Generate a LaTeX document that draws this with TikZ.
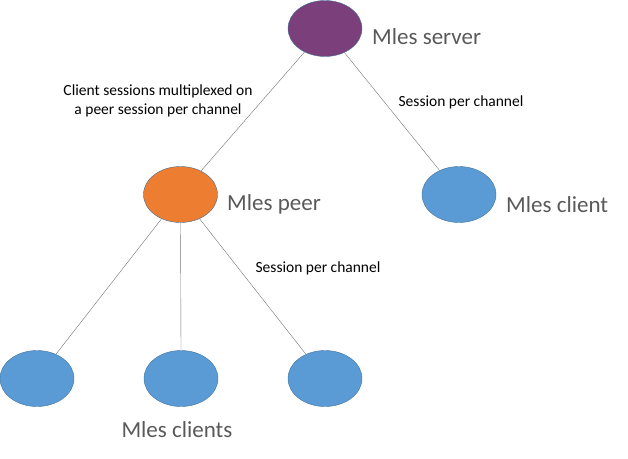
\documentclass[tikz,border=0pt]{standalone}
\usepackage{fontspec}
\setmainfont{Carlito}
\usetikzlibrary{shapes.geometric}
\usetikzlibrary{positioning}
\definecolor{mpurple}{HTML}{7B3F7B}
\definecolor{morange}{HTML}{ED7D31}
\definecolor{mblue}{HTML}{5B9BD5}
\definecolor{medge}{HTML}{41719C}
\definecolor{mtext}{HTML}{595959}

\begin{document}
\begin{tikzpicture}[x=1pt, y=-1pt,
    blob/.style={ellipse, draw=medge, thin, minimum width=74pt, minimum height=56pt, inner sep=0pt},
    bigtext/.style={font=\fontsize{23}{26}\selectfont, text=mtext, inner sep=0pt, anchor=base west},
    smalltext/.style={font=\fontsize{15.5}{19.5}\selectfont, align=center, inner sep=0pt},
    link/.style={draw=gray!90!black, thin}]
    \useasboundingbox (0, 0) rectangle (628, 458);

    \node [blob, fill=mpurple] (server) at (325, 28.5) {};
    \node [blob, fill=morange] (peer) at (180.5, 194.5) {};
    \node [blob, fill=mblue] (client) at (459, 194.5) {};
    \node [blob, fill=mblue] (clientA) at (37, 378.5) {};
    \node [blob, fill=mblue] (clientB) at (181, 378.5) {};
    \node [blob, fill=mblue] (clientC) at (325, 378.5) {};

    \draw [link] (server) -- (peer);
    \draw [link] (server) -- (client);
    \draw [link] (peer) -- (clientA);
    \draw [link] (peer.south) -- (clientB.north);
    \draw [link] (peer) -- (clientC);

    \node [bigtext] (serverlabel) at (372, 44) {Mles server};
    \node [bigtext] (peerlabel) at (227, 210) {Mles peer};
    \node [bigtext] (clientlabel) at (506, 212) {Mles client};
    \node [bigtext, anchor=base] (clientslabel) at (177, 437) {Mles clients};

    \node [smalltext] (muxlabel) at (158, 101) {Client sessions multiplexed on\\a peer session per channel};
    \node [smalltext] (sessionlabel) at (461, 102) {Session per channel};
    \node [smalltext] (peersessionlabel) at (318, 268) {Session per channel};
  \end{tikzpicture}
\end{document}
